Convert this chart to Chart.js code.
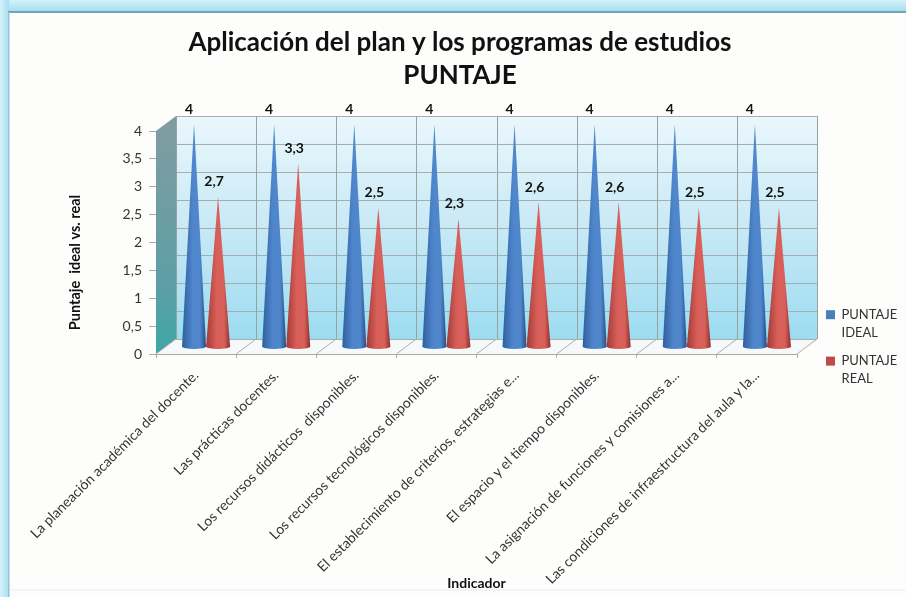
<!DOCTYPE html>
<html>
<head>
<meta charset="utf-8">
<style>html,body{margin:0;padding:0;background:#fff}canvas{display:block}</style>
<script src="https://cdn.jsdelivr.net/npm/chart.js@4"></script>
</head>
<body>
<canvas id="c" width="906" height="597"></canvas>
<script>
const categories = [
  "La planeación académica del docente.",
  "Las prácticas docentes.",
  "Los recursos didácticos  disponibles.",
  "Los recursos tecnológicos disponibles.",
  "El establecimiento de criterios, estrategias e...",
  "El espacio y el tiempo disponibles.",
  "La asignación de funciones y comisiones a...",
  "Las condiciones de infraestructura del aula y la..."
];
const puntajeIdeal = [4, 4, 4, 4, 4, 4, 4, 4];
const puntajeReal = [2.7, 3.3, 2.5, 2.3, 2.6, 2.6, 2.5, 2.5];
const titleLines = ["Aplicación del plan y los programas de estudios", "PUNTAJE"];
const FONT = "Lato";
const DEPTH_X = 20, DEPTH_Y = -15;
const fmt = v => String(v).replace(".", ",");

const tones = [
  {edge:"#2f5f9e", mid:"#4f86cc", dark:"#254f88"},
  {edge:"#a33a36", mid:"#d9605a", dark:"#8f2f2c"}
];

const scene = {
  id: "scene",
  beforeLayout(chart) {
    const lg = chart.legend;
    if (lg && !lg._wrapped) {
      const f = lg.fit.bind(lg);
      lg.fit = function(){ f(); this.width = 109; };
      lg._wrapped = true;
    }
  },
  afterLayout(chart) {
    const lg = chart.legend;
    lg.left = 826 - lg.options.labels.padding;
    lg.bottom = 401;
  },
  beforeDraw(chart) {
    const c = chart.ctx, W = chart.width, H = chart.height;
    c.save();
    c.fillStyle = "#fdfdfc";
    c.fillRect(0,0,W,H);
    let g = c.createLinearGradient(0,0,0,12);
    g.addColorStop(0,"#d6f1fa"); g.addColorStop(1,"#9fdcf0");
    c.fillStyle = g; c.fillRect(0,0,W,12);
    g = c.createLinearGradient(0,0,9,0);
    g.addColorStop(0,"#d6f1fa"); g.addColorStop(1,"#a6dff2");
    c.fillStyle = g; c.fillRect(0,0,9,H);
    c.fillStyle = "#6fa6b4"; c.fillRect(8,11,W-8,2);
    c.fillStyle = "#8fc6d4"; c.fillRect(8,12,1.5,H-12);
    c.fillStyle = "#eef6f9"; c.fillRect(10,589,W-10,2);
    c.restore();
  },
  beforeDatasetsDraw(chart) {
    const c = chart.ctx, x = chart.scales.x, y = chart.scales.y;
    const L = x.left, R = x.right, T = y.getPixelForValue(4), B = y.getPixelForValue(0);
    const dx = DEPTH_X, dy = DEPTH_Y;
    c.save();
    // back wall
    let g = c.createLinearGradient(0,T+dy,0,B+dy);
    g.addColorStop(0,"#eaf7fc"); g.addColorStop(0.5,"#c8e9f5"); g.addColorStop(1,"#9cdcf1");
    c.fillStyle = g; c.fillRect(L+dx,T+dy,R-L,B-T);
    // side wall
    g = c.createLinearGradient(0,T,0,B);
    g.addColorStop(0,"#7f9ca1"); g.addColorStop(0.7,"#5d9ea6"); g.addColorStop(1,"#3da8a6");
    c.fillStyle = g;
    c.beginPath(); c.moveTo(L,T); c.lineTo(L+dx,T+dy); c.lineTo(L+dx,B+dy); c.lineTo(L,B); c.closePath(); c.fill();
    // floor
    c.fillStyle = "#f5f9fa";
    c.beginPath(); c.moveTo(L,B); c.lineTo(L+dx,B+dy); c.lineTo(R+dx,B+dy); c.lineTo(R,B); c.closePath(); c.fill();
    // grid on the wall
    c.strokeStyle = "#a3aeb1"; c.lineWidth = 1;
    y.ticks.forEach(t => {
      const py = Math.round(y.getPixelForValue(t.value)+dy)+0.5;
      c.beginPath(); c.moveTo(L+dx,py); c.lineTo(R+dx,py); c.stroke();
    });
    const step = x.getPixelForValue(1)-x.getPixelForValue(0);
    for (let i=0;i<=categories.length;i++) {
      const px = x.getPixelForValue(0)-step/2+i*step;
      c.strokeStyle = "#97a2a5";
      c.beginPath(); c.moveTo(Math.round(px+dx)+0.5,T+dy); c.lineTo(Math.round(px+dx)+0.5,B+dy); c.stroke();
      c.strokeStyle = "#b5a9a4";
      c.beginPath(); c.moveTo(px,B); c.lineTo(px+dx,B+dy); c.stroke();
    }
    c.restore();
  },
  beforeDatasetDraw(chart, args) {
    const c = chart.ctx, tone = tones[args.index];
    const meta = chart.getDatasetMeta(args.index);
    const ox = DEPTH_X/2, oy = -7;
    c.save();
    meta.data.forEach(el => {
      const cx = el.x+ox, tip = el.y+oy, base = el.base+oy, hw = el.width/2;
      const g = c.createLinearGradient(cx-hw,0,cx+hw,0);
      g.addColorStop(0,tone.edge); g.addColorStop(0.45,tone.mid); g.addColorStop(0.75,tone.mid); g.addColorStop(1,tone.dark);
      c.fillStyle = g;
      c.beginPath();
      c.moveTo(cx,tip);
      c.lineTo(cx+hw,base);
      c.ellipse(cx,base,hw,2.6,0,0,Math.PI);
      c.closePath();
      c.fill();
    });
    c.restore();
    return false;
  },
  afterDatasetsDraw(chart) {
    const c = chart.ctx;
    c.save();
    c.font = "bold 14px "+FONT;
    c.fillStyle = "#111";
    c.textAlign = "center"; c.textBaseline = "middle";
    chart.data.datasets.forEach((ds,di) => {
      chart.getDatasetMeta(di).data.forEach((el,i) => {
        c.fillText(fmt(ds.data[i]), el.x+DEPTH_X/2-(di===0?5:4), el.y-7-15);
      });
    });
    c.restore();
  }
};

new Chart(document.getElementById("c"), {
  type: "bar",
  data: {
    labels: categories,
    datasets: [
      {label:["PUNTAJE","IDEAL"], data:puntajeIdeal, backgroundColor:"#4a7ebb"},
      {label:["PUNTAJE","REAL"], data:puntajeReal, backgroundColor:"#be4b48"}
    ]
  },
  plugins: [scene],
  options: {
    responsive: false,
    animation: false,
    events: [],
    categoryPercentage: 0.6,
    barPercentage: 1,
    layout: {padding:{left:14,right:0,top:0,bottom:0}},
    plugins: {
      tooltip:{enabled:false},
      title:{
        display:true, text:titleLines, color:"#111",
        font:{family:FONT,size:26,weight:"bold",lineHeight:1.27},
        padding:{top:26,bottom:39}
      },
      legend:{
        display:true, position:"right", align:"end",
        labels:{
          color:"#333", boxWidth:9, boxHeight:9, padding:10,
          font:{family:FONT,size:13,lineHeight:1.4},
          generateLabels(chart){
            return chart.data.datasets.map((d,i)=>({text:d.label,fillStyle:d.backgroundColor,strokeStyle:d.backgroundColor,lineWidth:0,datasetIndex:i,fontColor:"#333"}));
          }
        }
      }
    },
    scales: {
      x: {
        grid:{drawOnChartArea:false,drawTicks:true,tickLength:4,color:"#b5a9a4"},
        border:{color:"#b0a6a2"},
        afterFit(s){ s.height = 243; },
        ticks:{autoSkip:false,maxRotation:45,minRotation:45,padding:9,color:"#333",font:{family:FONT,size:14}},
        title:{display:true,text:"Indicador",color:"#111",font:{family:FONT,size:14,weight:"bold"},padding:{top:0,bottom:5}}
      },
      y: {
        min:0,max:4,
        grid:{drawOnChartArea:false,drawTicks:true,tickLength:7,color:"#a9a9a9"},
        border:{color:"#a9a9a9"},
        afterFit(s){
          s.width = 142;
          if(!s._shifted){
            const d = s.drawTitle.bind(s);
            s.drawTitle = function(){ s.ctx.save(); s.ctx.translate(53,20); d(); s.ctx.restore(); };
            s._shifted = true;
          }
        },
        ticks:{stepSize:0.5,padding:7,color:"#333",font:{family:FONT,size:14},callback:v=>fmt(v)},
        title:{display:true,text:"Puntaje  ideal vs. real",color:"#111",font:{family:FONT,size:14.5,weight:"bold"},padding:{top:0,bottom:0}}
      }
    }
  }
});
</script>
</body>
</html>
